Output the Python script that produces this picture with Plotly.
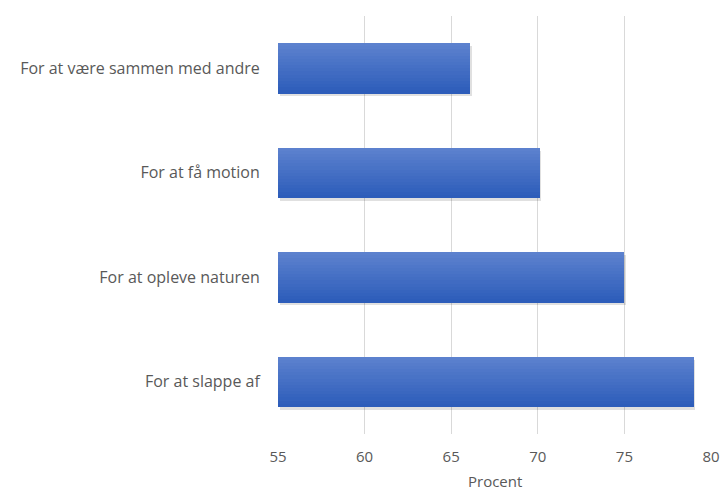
import plotly.graph_objects as go

categories = ["For at være sammen med andre", "For at få motion", "For at opleve naturen", "For at slappe af"]
values = [66.1, 70.1, 75.0, 79.0]
x_ticks = [55, 60, 65, 70, 75, 80]
x_title = "Procent"

BAR_W = 0.48
N = 16
top_rgb = (92, 129, 206)
bot_rgb = (45, 93, 186)

fig = go.Figure()

# soft shadow
fig.add_trace(go.Bar(
    y=categories, x=[v - 55 for v in values], base=55.1, orientation="h",
    width=BAR_W, offset=-BAR_W / 2 + 0.03,
    marker=dict(color="rgba(0,0,0,0.12)", line=dict(width=0)),
    hoverinfo="skip", showlegend=False,
))

# vertical gradient built from thin slices
sw = BAR_W / N
for i in range(N):
    t = i / (N - 1)
    c = tuple(round(top_rgb[k] + (bot_rgb[k] - top_rgb[k]) * t) for k in range(3))
    fig.add_trace(go.Bar(
        y=categories, x=[v - 55 for v in values], base=55, orientation="h",
        width=sw * 1.08, offset=-BAR_W / 2 + i * sw,
        marker=dict(color="rgb(%d,%d,%d)" % c, line=dict(width=0)),
        hoverinfo="skip", showlegend=False,
    ))

fig.update_layout(
    width=720, height=493,
    margin=dict(l=278, r=9, t=16, b=59),
    paper_bgcolor="white", plot_bgcolor="white",
    barmode="overlay", bargap=0,
    font=dict(family="Open Sans", size=16, color="#595959"),
    showlegend=False,
    annotations=[dict(
        text=x_title, xref="paper", yref="paper", x=0.5, y=-0.138,
        xanchor="center", yanchor="bottom", showarrow=False, borderpad=0,
        font=dict(size=15, color="#595959"),
    )],
)
fig.update_xaxes(
    range=[55, 80], tickvals=x_ticks, showgrid=True, gridcolor="#d9d9d9", gridwidth=1,
    zeroline=False, showline=False, tickfont=dict(size=15, color="#595959"),
    ticks="outside", ticklen=9, tickcolor="white", automargin=False,
)
fig.update_yaxes(
    categoryorder="array", categoryarray=categories, autorange="reversed",
    showgrid=False, zeroline=False, showline=False, automargin=False,
    ticks="outside", ticklen=14, tickcolor="white",
    tickfont=dict(size=16, color="#595959"),
)
fig.write_html("out.html")
